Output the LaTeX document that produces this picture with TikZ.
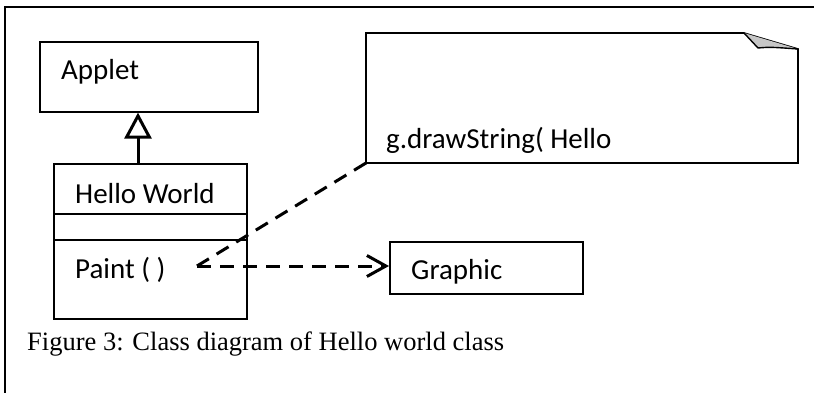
\documentclass[tikz,border=0pt]{standalone}
\usepackage{fontspec}
\setmainfont{Liberation Serif}
\newfontfamily\carlfont{Carlito}
\usetikzlibrary{arrows.meta}
\tikzset{
  umlbox/.style={draw=black, line width=1.6pt, fill=white, inner sep=0pt, anchor=north west},
  umltext/.style={anchor=base west, inner sep=0pt, font=\carlfont\fontsize{29}{34}\selectfont},
  dashconn/.style={line width=3pt, dash pattern=on 14pt off 9pt},
  capt/.style={anchor=base west, inner sep=0pt, font=\fontsize{26.5}{32}\selectfont}
}
\begin{document}
\begin{tikzpicture}[x=1pt,y=-1pt]
\useasboundingbox (0,0) rectangle (814,393);
% outer frame
\draw[line width=1.6pt] (814,7) -- (5,7) -- (5,393);

% Applet
\node[umlbox, minimum width=218pt, minimum height=70pt] (applet) at (39,41) {};
\node[umltext] (applettext) at (61,80) {Applet};

% Hello World class
\node[umlbox, minimum width=193pt, minimum height=155pt] (hw) at (53,163) {};
\coordinate (d1) at (53,214);
\coordinate (d2) at (53,240);
\draw[line width=1.6pt] (d1) -- (d1 -| hw.east);
\draw[line width=1.6pt] (d2) -- (d2 -| hw.east);
\node[umltext] (hwtext) at (75,203) {Hello World};
\node[umltext] (painttext) at (75,278) {Paint ( )};

% inheritance
\coordinate (ix) at (138,0);
\draw[line width=3pt, -{Triangle[open, length=26pt, width=27pt, line width=3pt]}]
  (hw.north -| ix) -- (applet.south -| ix);

% note
\coordinate (nA) at (366,33);
\coordinate (nB) at (744,33);
\coordinate (nC) at (798,49);
\coordinate (nD) at (798,163);
\coordinate (nE) at (366,163);
\draw[line width=1.6pt, line join=miter] (nB) -- (nA) -- (nE) -- (nD) -- (nC) -- cycle;
\fill[gray!45] (nB) -- (758,48) .. controls (770,47) .. (nC) -- cycle;
\draw[line width=1.4pt, line join=round] (nB) -- (758,48) .. controls (770,47) .. (nC);
\begin{scope}
  \clip (366,33) rectangle (798,153);
  \node[umltext] (notetext) at (386,149) {g.drawString( Hello};
\end{scope}

% Graphic
\node[umlbox, minimum width=193pt, minimum height=52pt] (graphic) at (389,241) {};
\node[umltext] (graphictext) at (411,279) {Graphic};

% dashed connectors
\coordinate (pe) at (197,266);
\draw[dashconn] (nE) -- (pe);
\draw[dashconn, -{Straight Barb[length=19pt, width=21pt, line width=3pt]}] (pe) -- (pe -| graphic.west);

% caption
\node[capt] (caption) at (27,350) {Figure 3: Class diagram of Hello world class};
\end{tikzpicture}
\end{document}
